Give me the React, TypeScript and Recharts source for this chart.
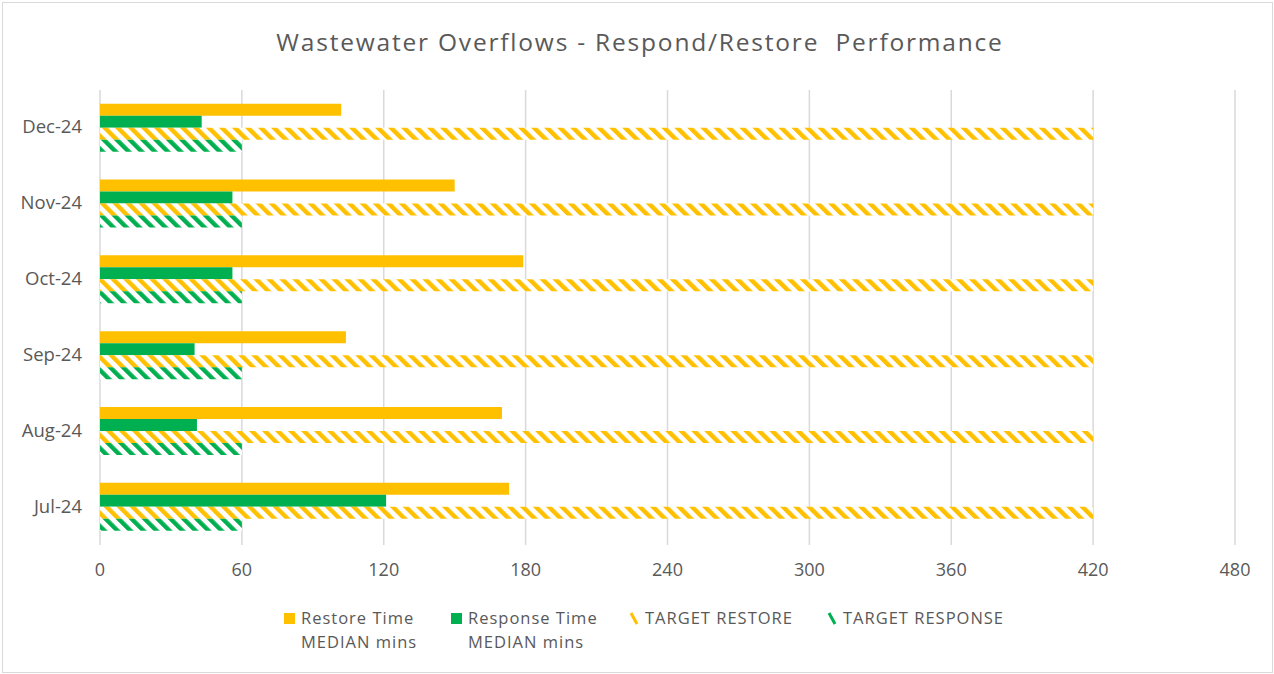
import React from 'react';
import { BarChart, Bar, XAxis, YAxis, CartesianGrid } from 'recharts';

const months = ['Jul-24', 'Aug-24', 'Sep-24', 'Oct-24', 'Nov-24', 'Dec-24'];
const restoreMedian = [173, 170, 104, 179, 150, 102];
const responseMedian = [121, 41, 40, 56, 56, 43];
const targetRestore = [420, 420, 420, 420, 420, 420];
const targetResponse = [60, 60, 60, 60, 60, 60];
const xTicks = [0, 60, 120, 180, 240, 300, 360, 420, 480];
const boundaryTicks = [0, 1, 2, 3, 4, 5, 6];

const TITLE = 'Wastewater Overflows - Respond/Restore  Performance';
const YELLOW = '#FFC000';
const GREEN = '#00B050';
const TEXT = '#595959';
const GRID = '#D9D9D9';
const FONT = '"Open Sans", "Liberation Sans", sans-serif';

const data = months.map((m, i) => ({
  month: m,
  restore: restoreMedian[i],
  response: responseMedian[i],
  tRestore: targetRestore[i],
  tResponse: targetResponse[i],
}));

const legendItems = [
  { lines: ['Restore Time', 'MEDIAN mins'], kind: 'solid', color: YELLOW, textX: 301 },
  { lines: ['Response Time', 'MEDIAN mins'], kind: 'solid', color: GREEN, textX: 468 },
  { lines: ['TARGET RESTORE'], kind: 'hatch', color: YELLOW, textX: 645 },
  { lines: ['TARGET RESPONSE'], kind: 'hatch', color: GREEN, textX: 843 },
];

export default function App() {
  return (
    <div style={{ position: 'absolute', left: 0, top: 0, width: 1274, height: 674, background: '#fff', fontFamily: FONT }}>
      <div style={{ position: 'absolute', left: 2, top: 2, width: 1269, height: 669, border: `1px solid ${GRID}` }} />
      <div style={{ position: 'absolute', left: 0, top: 0 }}>
        <BarChart
          width={1274}
          height={674}
          data={data}
          layout="vertical"
          margin={{ top: 90, right: 39, bottom: 99, left: 0 }}
          barCategoryGap="18%"
          barGap={0}
        >
          <defs>
            <pattern id="hatchYellow" patternUnits="userSpaceOnUse" width={9.2} height={9.2} patternTransform="rotate(-45)">
              <rect x={0} y={0} width={9.2} height={9.2} fill="#fff" />
              <rect x={0} y={0} width={4.4} height={9.2} fill={YELLOW} />
            </pattern>
            <pattern id="hatchGreen" patternUnits="userSpaceOnUse" width={9.2} height={9.2} patternTransform="rotate(-45)">
              <rect x={0} y={0} width={9.2} height={9.2} fill="#fff" />
              <rect x={0} y={0} width={4.4} height={9.2} fill={GREEN} />
            </pattern>
          </defs>
          <CartesianGrid horizontal={false} stroke={GRID} strokeWidth={1.5} />
          <XAxis
            type="number"
            domain={[0, 480]}
            ticks={xTicks}
            axisLine={false}
            tickLine={false}
            tickMargin={12}
            height={30}
            tick={{ fill: TEXT, fontSize: 18, fontFamily: FONT }}
          />
          <YAxis
            yAxisId="bounds"
            type="number"
            domain={[0, 6]}
            ticks={boundaryTicks}
            tick={false}
            tickLine={{ stroke: GRID, strokeWidth: 1.5 }}
            tickSize={6}
            axisLine={{ stroke: GRID, strokeWidth: 1.5 }}
            width={0}
          />
          <YAxis
            yAxisId="cat"
            type="category"
            dataKey="month"
            reversed
            axisLine={false}
            tickLine={false}
            tickMargin={12}
            width={100}
            tick={{ fill: TEXT, fontSize: 18.5, fontFamily: FONT, dy: -1 }}
          />
          <Bar yAxisId="cat" dataKey="restore" fill={YELLOW} isAnimationActive={false} />
          <Bar yAxisId="cat" dataKey="response" fill={GREEN} isAnimationActive={false} />
          <Bar yAxisId="cat" dataKey="tRestore" fill="url(#hatchYellow)" isAnimationActive={false} />
          <Bar yAxisId="cat" dataKey="tResponse" fill="url(#hatchGreen)" isAnimationActive={false} />
        </BarChart>
      </div>
      <svg width={1274} height={674} style={{ position: 'absolute', left: 0, top: 0, pointerEvents: 'none' }}>
        <text x={640} y={51} textAnchor="middle" fill={TEXT} fontSize={24.5} fontFamily={FONT} style={{ letterSpacing: 1.8, whiteSpace: 'pre' }}>
          {TITLE}
        </text>
        {legendItems.map((item) => (
          <g key={item.lines[0]}>
            {item.kind === 'solid' ? (
              <rect x={item.textX - 17} y={613} width={11} height={11} fill={item.color} />
            ) : (
              <line x1={item.textX - 14} y1={613} x2={item.textX - 8} y2={624} stroke={item.color} strokeWidth={3} />
            )}
            {item.lines.map((l, j) => (
              <text key={l} x={item.textX} y={624 + j * 24} fill={TEXT} fontSize={16.5} fontFamily={FONT} style={{ letterSpacing: 1.0 }}>
                {l}
              </text>
            ))}
          </g>
        ))}
      </svg>
    </div>
  );
}
